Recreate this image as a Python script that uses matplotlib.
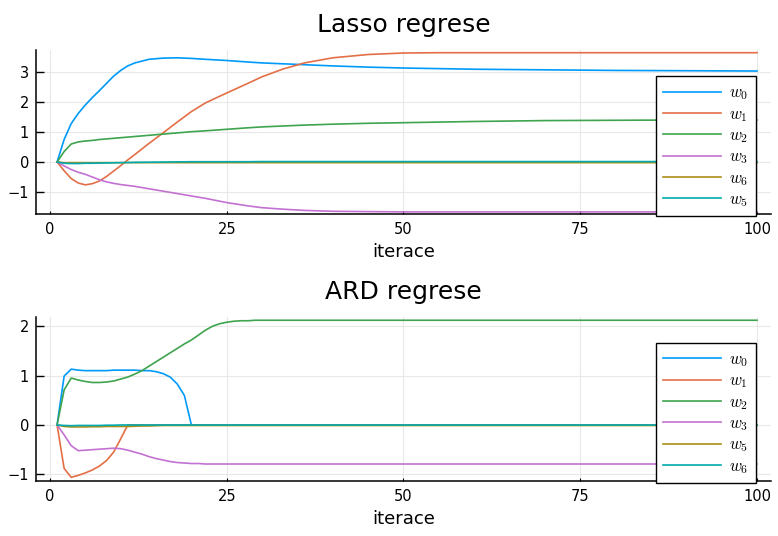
import numpy as np
import matplotlib
matplotlib.use("Agg")
import matplotlib.pyplot as plt

# Lasso: weights sampled at selected iterations
lasso_iter = [1, 2, 3, 4, 5, 6, 7, 8, 9, 10, 11, 12, 14, 16, 18, 20, 22, 25, 28,
              30, 33, 36, 40, 45, 50, 55, 60, 70, 80, 90, 100]
lasso_w0 = [0.0, 0.75, 1.28, 1.62, 1.90, 2.15, 2.38, 2.62, 2.86, 3.05, 3.20, 3.30,
            3.42, 3.46, 3.47, 3.45, 3.42, 3.38, 3.33, 3.30, 3.27, 3.24, 3.20, 3.16,
            3.13, 3.11, 3.09, 3.07, 3.05, 3.04, 3.03]
lasso_w1 = [0.0, -0.29, -0.55, -0.70, -0.76, -0.72, -0.63, -0.48, -0.30, -0.12,
            0.07, 0.25, 0.62, 0.97, 1.33, 1.68, 1.97, 2.30, 2.62, 2.84, 3.10, 3.30,
            3.47, 3.58, 3.63, 3.64, 3.64, 3.64, 3.64, 3.64, 3.64]
lasso_w2 = [0.0, 0.35, 0.60, 0.67, 0.70, 0.72, 0.75, 0.77, 0.79, 0.81, 0.83, 0.85,
            0.89, 0.93, 0.97, 1.01, 1.04, 1.09, 1.14, 1.17, 1.20, 1.23, 1.26, 1.29,
            1.31, 1.33, 1.35, 1.38, 1.39, 1.40, 1.40]
lasso_w3 = [0.0, -0.13, -0.25, -0.34, -0.41, -0.50, -0.59, -0.66, -0.71, -0.75,
            -0.78, -0.81, -0.89, -0.97, -1.05, -1.13, -1.21, -1.35, -1.46, -1.52,
            -1.57, -1.61, -1.64, -1.65, -1.66, -1.66, -1.66, -1.66, -1.66, -1.66,
            -1.66]
lasso_w6 = [0.0, -0.02, -0.02, -0.02, -0.02, -0.02, -0.02, -0.02, -0.02, -0.02,
            -0.02, -0.02, -0.02, -0.02, -0.02, -0.02, -0.02, -0.02, -0.02, -0.02,
            -0.02, -0.02, -0.02, -0.02, -0.02, -0.02, -0.02, -0.02, -0.02, -0.02,
            -0.02]
lasso_w5 = [0.0, -0.04, -0.05, -0.05, -0.04, -0.04, -0.035, -0.03, -0.025, -0.02,
            -0.015, -0.01, -0.005, 0.0, 0.005, 0.01, 0.01, 0.01, 0.01, 0.015, 0.015,
            0.015, 0.015, 0.015, 0.015, 0.015, 0.015, 0.015, 0.015, 0.015, 0.015]

# ARD: every iteration up to 30, then every 10
ard_iter = list(range(1, 31)) + [40, 50, 60, 70, 80, 90, 100]
ard_w0 = [0.0, 0.99, 1.13, 1.11, 1.10, 1.10, 1.10, 1.10, 1.11, 1.11, 1.11, 1.11,
          1.10, 1.10, 1.08, 1.04, 0.97, 0.83, 0.60, 0.0, 0.0, 0.0, 0.0, 0.0, 0.0,
          0.0, 0.0, 0.0, 0.0, 0.0, 0.0, 0.0, 0.0, 0.0, 0.0, 0.0, 0.0]
ard_w1 = [0.0, -0.88, -1.06, -1.02, -0.97, -0.91, -0.83, -0.72, -0.55, -0.28, 0.0,
          0.0, 0.0, 0.0, 0.0, 0.0, 0.0, 0.0, 0.0, 0.0, 0.0, 0.0, 0.0, 0.0, 0.0,
          0.0, 0.0, 0.0, 0.0, 0.0, 0.0, 0.0, 0.0, 0.0, 0.0, 0.0, 0.0]
ard_w2 = [0.0, 0.71, 0.95, 0.91, 0.88, 0.86, 0.86, 0.87, 0.89, 0.93, 0.97, 1.03,
          1.10, 1.19, 1.28, 1.37, 1.46, 1.55, 1.64, 1.72, 1.82, 1.92, 2.00, 2.05,
          2.08, 2.10, 2.11, 2.11, 2.12, 2.12, 2.12, 2.12, 2.12, 2.12, 2.12, 2.12,
          2.12]
ard_w3 = [0.0, -0.20, -0.42, -0.52, -0.51, -0.50, -0.49, -0.48, -0.47, -0.48,
          -0.51, -0.55, -0.59, -0.64, -0.68, -0.71, -0.74, -0.76, -0.77, -0.78,
          -0.78, -0.79, -0.79, -0.79, -0.79, -0.79, -0.79, -0.79, -0.79, -0.79,
          -0.79, -0.79, -0.79, -0.79, -0.79, -0.79, -0.79]
ard_w5 = [0.0, -0.03, -0.04, -0.04, -0.04, -0.035, -0.035, -0.03, -0.03, -0.03,
          -0.03, -0.025, -0.02, -0.02, -0.015, -0.01, -0.01, -0.01, -0.01, -0.01,
          -0.01, -0.01, -0.01, -0.01, -0.01, -0.01, -0.01, -0.01, -0.01, -0.01,
          -0.01, -0.01, -0.01, -0.01, -0.01, -0.01, -0.01]
ard_w6 = [0.0, -0.01, -0.015, -0.01, -0.01, -0.01, -0.01, -0.005, -0.005, 0.0,
          0.0, 0.0, 0.0, 0.0, 0.0, 0.0, 0.0, 0.0, 0.0, 0.0, 0.0, 0.0, 0.0, 0.0, 0.0,
          0.0, 0.0, 0.0, 0.0, 0.0, 0.0, 0.0, 0.0, 0.0, 0.0, 0.0, 0.0]

palette = ["#009AFA", "#E36F47", "#3EA44E", "#C371D2", "#AC8E18", "#00AAAE"]

plt.rcParams["mathtext.fontset"] = "cm"
plt.rcParams["font.family"] = "DejaVu Sans"

fig = plt.figure(figsize=(7.78, 5.36), dpi=100)
W, H = 778, 536


def make_axes(top, bottom):
    # pixel box -> figure fraction
    left, right = 36, 771
    return fig.add_axes([left / W, 1 - bottom / H, (right - left) / W,
                         (bottom - top) / H])


def style(ax, title, ylim):
    ax.set_xlim(-1.98, 101.98)
    ax.set_ylim(*ylim)
    ax.set_title(title, fontsize=18, pad=13)
    ax.set_xlabel("iterace", fontsize=13, labelpad=4)
    ax.set_xticks([0, 25, 50, 75, 100])
    ax.grid(True, color="#e8e8e8", lw=0.8)
    ax.set_axisbelow(True)
    for s in ["top", "right"]:
        ax.spines[s].set_visible(False)
    for s in ["left", "bottom"]:
        ax.spines[s].set_linewidth(1.1)
    ax.tick_params(axis="y", direction="in", length=6, width=1, labelsize=10.5,
                   pad=5)
    ax.tick_params(axis="x", direction="in", length=2, width=0.8, labelsize=10.5,
                   pad=6)


def add_legend(ax, lines, labels):
    leg = ax.legend(lines, labels, loc="upper left", bbox_to_anchor=(0.843, 0.842),
                    fontsize=12, frameon=True, fancybox=False, framealpha=1,
                    edgecolor="black", handlelength=3.5, handletextpad=0.45,
                    labelspacing=0.15, borderpad=0.45, borderaxespad=0)
    leg.get_frame().set_linewidth(1.0)


# Lasso panel
ax1 = make_axes(50, 214)
lasso_series = [lasso_w0, lasso_w1, lasso_w2, lasso_w3, lasso_w6, lasso_w5]
lasso_labels = ["$w_0$", "$w_1$", "$w_2$", "$w_3$", "$w_6$", "$w_5$"]
lines1 = []
for vals, c in zip(lasso_series, palette):
    ln, = ax1.plot(lasso_iter, vals, color=c, lw=1.2)
    lines1.append(ln)
style(ax1, "Lasso regrese", (-1.73, 3.73))
ax1.set_yticks([-1, 0, 1, 2, 3])
add_legend(ax1, lines1, lasso_labels)

# ARD panel
ax2 = make_axes(316.6, 481)
ard_series = [ard_w0, ard_w1, ard_w2, ard_w3, ard_w5, ard_w6]
ard_labels = ["$w_0$", "$w_1$", "$w_2$", "$w_3$", "$w_5$", "$w_6$"]
lines2 = []
for vals, c in zip(ard_series, palette):
    ln, = ax2.plot(ard_iter, vals, color=c, lw=1.2)
    lines2.append(ln)
style(ax2, "ARD regrese", (-1.134, 2.194))
ax2.set_yticks([-1, 0, 1, 2])
add_legend(ax2, lines2, ard_labels)

fig.savefig("out.png", dpi=100)
